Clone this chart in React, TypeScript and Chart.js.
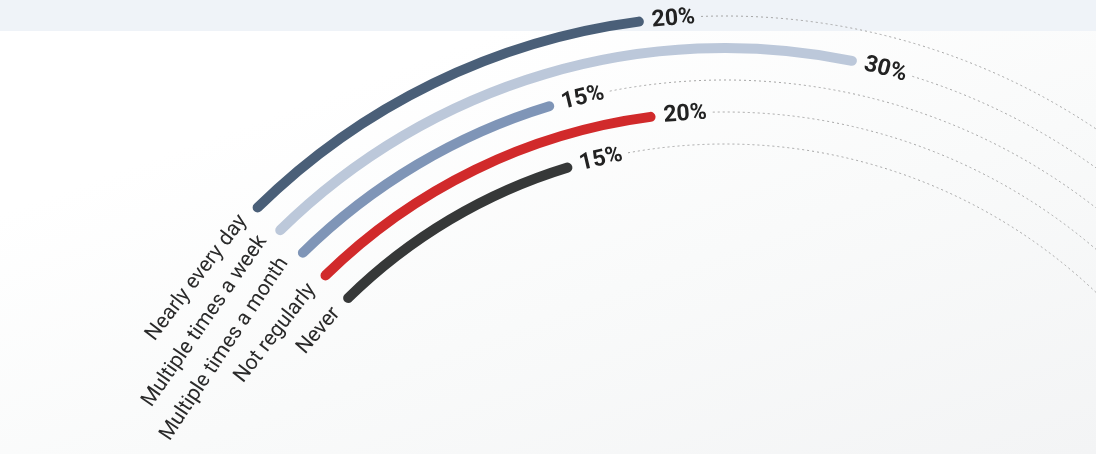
import React, { useEffect, useRef } from "react";
import { Chart, registerables } from "chart.js";

Chart.register(...registerables);

// ---- data ----
const categories = [
  "Nearly every day",
  "Multiple times a week",
  "Multiple times a month",
  "Not regularly",
  "Never",
];
const values = [20, 30, 15, 20, 15];
const valueLabels = ["20%", "30%", "15%", "20%", "15%"];
const colors = ["#4a5f78", "#bcc8da", "#7f95b7", "#d12a2b", "#363838"];
const scaleMax = 100;

// ---- geometry / style ----
const SWEEP_DEG = 190; // angle covered by 0..scaleMax
const START_DEG = -45;
const RING_W = 10;
const GAP_W = 22;
const OUTER_R = 671;
const CANVAS_W = 1096;
const CANVAS_H = 1364; // taller than the view so the circle centre lies below it
const PAD_LEFT = 354;

const radialLabelPlugin = {
  id: "radialLabels",
  afterDatasetsDraw(chart: any) {
    const ctx = chart.ctx as CanvasRenderingContext2D;
    chart.data.datasets.forEach((ds: any, i: number) => {
      if (!ds.isRing) return;
      const meta = chart.getDatasetMeta(i);
      const bar = meta.data[0];
      const rest = meta.data[1];
      const { x, y, startAngle, endAngle, innerRadius, outerRadius } = bar.getProps(
        ["x", "y", "startAngle", "endAngle", "innerRadius", "outerRadius"],
        true
      );
      const r = (innerRadius + outerRadius) / 2;
      ctx.save();

      // value label after arc end
      ctx.font = "bold 23px Roboto";
      ctx.fillStyle = "#222222";
      ctx.textAlign = "center";
      ctx.textBaseline = "middle";
      const vt = ds.valueText;
      const vw = ctx.measureText(vt).width;
      const vGap = 8;
      const vc = endAngle + (vGap + vw / 2) / r;
      ctx.save();
      ctx.translate(x + r * Math.cos(vc), y + r * Math.sin(vc));
      ctx.rotate(vc + Math.PI / 2);
      ctx.fillText(vt, 0, 1);
      ctx.restore();

      // dotted track continuation
      ctx.beginPath();
      ctx.setLineDash([2, 3]);
      ctx.strokeStyle = "#a4a4a4";
      ctx.lineWidth = 1;
      ctx.arc(x, y, r, endAngle + (vGap + vw + 6) / r, rest.endAngle);
      ctx.stroke();
      ctx.setLineDash([]);

      // category label before arc start
      ctx.font = "21px Roboto";
      ctx.fillStyle = "#2a2a2a";
      const ct = ds.label;
      const cw = ctx.measureText(ct).width;
      const cGap = 12;
      const cc = startAngle - (cGap + cw / 2) / r;
      ctx.save();
      ctx.translate(x + r * Math.cos(cc), y + r * Math.sin(cc));
      ctx.rotate(cc + Math.PI / 2);
      ctx.fillText(ct, 0, 1);
      ctx.restore();

      ctx.restore();
    });
  },
};

export default function App() {
  const ref = useRef<HTMLCanvasElement>(null);

  useEffect(() => {
    const datasets: any[] = [];
    categories.forEach((cat, i) => {
      if (i > 0) {
        datasets.push({
          label: "",
          data: [1],
          backgroundColor: ["rgba(0,0,0,0)"],
          borderWidth: 0,
          weight: GAP_W,
        });
      }
      datasets.push({
        label: cat,
        isRing: true,
        valueText: valueLabels[i],
        data: [values[i], scaleMax - values[i]],
        backgroundColor: [colors[i], "rgba(0,0,0,0)"],
        borderWidth: 0,
        borderRadius: RING_W / 2,
        weight: RING_W,
        rotation: START_DEG,
        circumference: SWEEP_DEG,
        clip: false,
      });
    });
    const totalW = RING_W * categories.length + GAP_W * (categories.length - 1);
    const cutoutPct = ((OUTER_R - totalW) / OUTER_R) * 100;

    const chart = new Chart(ref.current as HTMLCanvasElement, {
      type: "doughnut",
      data: { labels: ["value", "rest"], datasets },
      options: {
        animation: false,
        responsive: false,
        events: [],
        radius: OUTER_R,
        cutout: cutoutPct + "%",
        layout: { padding: { left: PAD_LEFT, right: 0, top: 0, bottom: 0 } },
        plugins: {
          legend: { display: false },
          tooltip: { enabled: false },
        },
      } as any,
      plugins: [radialLabelPlugin],
    });
    return () => chart.destroy();
  }, []);

  return (
    <div
      style={{
        position: "fixed",
        left: 0,
        top: 0,
        width: 1096,
        height: 454,
        overflow: "hidden",
        background: "linear-gradient(160deg, #ffffff 25%, #f9fafa 60%, #f3f4f5 100%)",
      }}
    >
      <div
        style={{
          position: "absolute",
          left: 0,
          top: 0,
          width: "100%",
          height: 31,
          background: "#eff3f8",
        }}
      />
      <canvas
        ref={ref}
        width={CANVAS_W}
        height={CANVAS_H}
        style={{ position: "absolute", left: 0, top: 0, width: CANVAS_W, height: CANVAS_H }}
      />
    </div>
  );
}
